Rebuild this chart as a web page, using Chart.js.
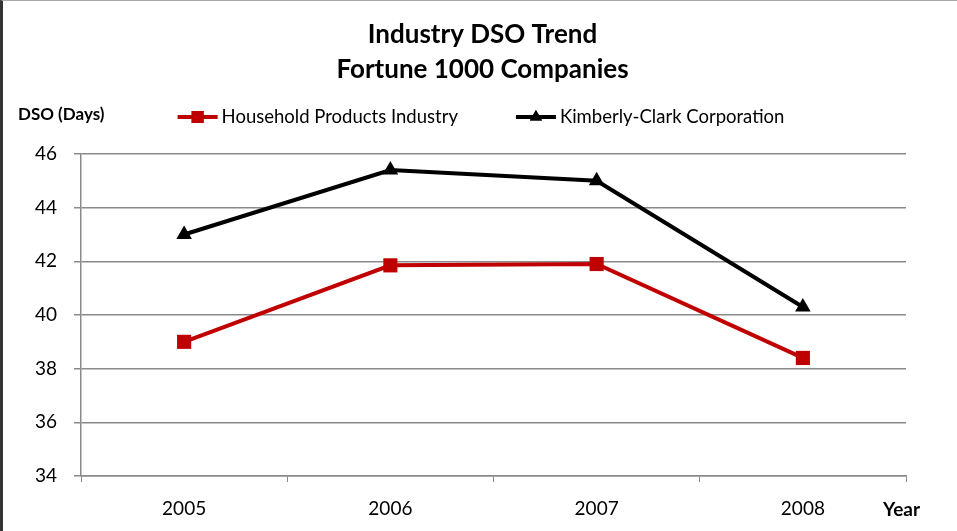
<!DOCTYPE html>
<html>
<head>
<meta charset="utf-8">
<script src="https://cdn.jsdelivr.net/npm/chart.js@4.4.0/dist/chart.umd.min.js"></script>
<style>
  body { margin: 0; background: #fff; }
  #wrap { position: relative; width: 957px; height: 531px; }
  #frame { position: absolute; left: 0; top: 0; width: 957px; height: 531px; box-sizing: border-box;
           border-left: 3px solid #333; border-top: 1px solid #aaa; pointer-events: none; }
</style>
</head>
<body>
<div id="wrap">
  <canvas id="chart" width="957" height="531"></canvas>
  <div id="frame"></div>
</div>
<script>
// data
const years = ["2005", "2006", "2007", "2008"];
const household = [39.0, 41.85, 41.9, 38.4];
const kimberly = [43.0, 45.4, 45.0, 40.3];
const seriesNames = ["Household Products Industry", "Kimberly-Clark Corporation"];
const titleLines = ["Industry DSO Trend", "Fortune 1000 Companies"];
const yTitle = "DSO (Days)";
const xTitle = "Year";

const FONT = "Lato, 'Open Sans', sans-serif";
const gridColor = "#8a8a8a";

// legend + axis captions drawn on the canvas
const extras = {
  id: "extras",
  afterDraw(chart) {
    const ctx = chart.ctx;
    const area = chart.chartArea;
    ctx.save();
    ctx.fillStyle = "#000";
    ctx.textBaseline = "middle";
    ctx.textAlign = "left";
    ctx.font = "bold 17px " + FONT;
    ctx.fillText(yTitle, 18, area.top - 39);
    ctx.font = "bold 19px " + FONT;
    ctx.fillText(xTitle, area.right - 23, area.bottom + 34);

    // legend
    ctx.font = "18.5px " + FONT;
    const lineLen = 40, gapText = 4, gapItems = 58;
    const items = chart.data.datasets.map(ds => ({ ds, w: ctx.measureText(ds.label).width }));
    let total = 0;
    items.forEach((it, i) => { total += lineLen + gapText + it.w + (i ? gapItems : 0); });
    let x = 481 - total / 2;
    const y = area.top - 37;
    items.forEach(it => {
      ctx.strokeStyle = it.ds.borderColor;
      ctx.lineWidth = 4;
      ctx.beginPath();
      ctx.moveTo(x, y);
      ctx.lineTo(x + lineLen, y);
      ctx.stroke();
      ctx.fillStyle = it.ds.borderColor;
      const r = it.ds.pointStyle === "rect" ? 8.5 : 7;
      Chart.helpers.drawPoint(ctx, { pointStyle: it.ds.pointStyle, radius: r, rotation: 0, borderWidth: 0 }, x + lineLen / 2, y);
      ctx.fill();
      ctx.fillStyle = "#000";
      ctx.fillText(it.ds.label, x + lineLen + gapText, y);
      x += lineLen + gapText + it.w + gapItems;
    });
    ctx.restore();
  }
};

new Chart(document.getElementById("chart"), {
  type: "line",
  plugins: [extras],
  data: {
    labels: years,
    datasets: [
      {
        label: seriesNames[0],
        data: household,
        borderColor: "#c00000",
        backgroundColor: "#c00000",
        borderWidth: 4,
        pointStyle: "rect",
        pointRadius: 10,
        pointBorderWidth: 0,
        tension: 0
      },
      {
        label: seriesNames[1],
        data: kimberly,
        borderColor: "#000000",
        backgroundColor: "#000000",
        borderWidth: 4,
        pointStyle: "triangle",
        pointRadius: 9,
        pointBorderWidth: 0,
        tension: 0
      }
    ]
  },
  options: {
    responsive: false,
    animation: false,
    layout: { padding: { left: 8, right: 0, bottom: 0, top: 0 } },
    plugins: {
      legend: { display: false },
      tooltip: { enabled: false },
      title: {
        display: true,
        text: titleLines,
        color: "#000",
        font: { family: FONT, size: 26, weight: "bold", lineHeight: 1.346 },
        padding: { top: 17, bottom: 67 }
      }
    },
    scales: {
      x: {
        offset: true,
        grid: { offset: true, drawOnChartArea: false, drawTicks: true, tickLength: 6, color: gridColor },
        border: { color: gridColor, width: 1.5 },
        ticks: { color: "#000", font: { family: FONT, size: 19 }, padding: 15 },
        afterFit: s => { s.height = 55; }
      },
      y: {
        min: 34,
        max: 46,
        ticks: { stepSize: 2, color: "#000", font: { family: FONT, size: 19 }, padding: 17 },
        grid: { color: gridColor, lineWidth: 1.5, tickLength: 7 },
        border: { color: gridColor, width: 1.5 },
        afterFit: s => { s.width = 73; }
      },
      // empty right-hand margin so the title centres like the reference
      yRight: {
        position: "right",
        grid: { display: false },
        ticks: { display: false },
        border: { display: false },
        afterFit: s => { s.width = 51; }
      }
    }
  }
});
</script>
</body>
</html>
